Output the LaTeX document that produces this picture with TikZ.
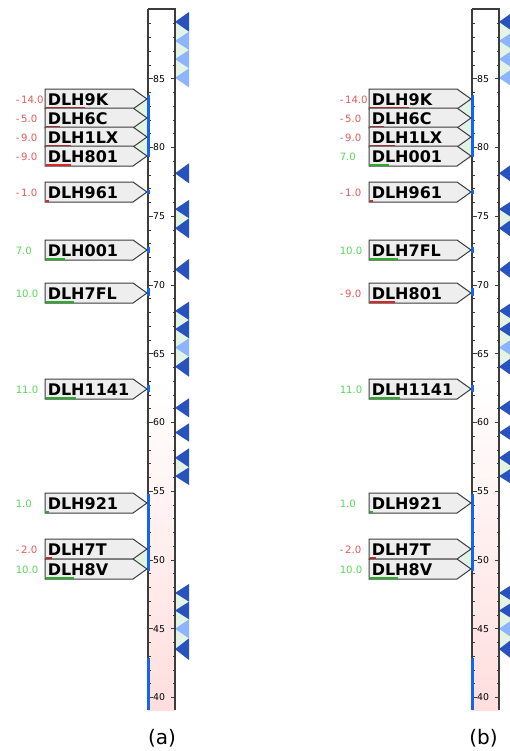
\documentclass[tikz,border=0pt]{standalone}
\usepackage{fontspec}
\setmainfont{DejaVu Sans}
\usetikzlibrary{positioning}

\definecolor{tridark}{RGB}{40,82,190}
\definecolor{trilight}{RGB}{140,180,255}
\definecolor{gapgreen}{RGB}{228,244,228}
\definecolor{boxgray}{RGB}{238,238,238}
\definecolor{edgegray}{RGB}{60,60,60}
\definecolor{valred}{RGB}{228,90,90}
\definecolor{valgreen}{RGB}{90,215,90}
\definecolor{barred}{RGB}{215,40,40}
\definecolor{bargreen}{RGB}{40,175,40}
\definecolor{rangeblue}{RGB}{20,100,240}
\definecolor{axispink}{RGB}{255,222,222}

\begin{document}
\begin{tikzpicture}[
    x=0.75pt,y=-0.75pt,
    lblbox/.style={draw=edgegray,fill=boxgray,line width=0.75pt,line join=miter},
    lbltext/.style={anchor=west,inner sep=0pt,font=\fontsize{12}{13}\selectfont\bfseries},
    vallbl/.style={anchor=west,inner sep=0pt,font=\fontsize{7.6}{8}\selectfont},
    axislbl/.style={anchor=west,inner sep=0pt,font=\fontsize{7}{8}\selectfont},
    caplbl/.style={inner sep=0pt,font=\fontsize{15}{16}\selectfont},
    axisedge/.style={draw=edgegray,line width=0.9pt},
    tickline/.style={draw=edgegray,line width=0.6pt},
    rangebar/.style={draw=rangeblue,line width=2.2pt},
    valbar/.style={line width=1.4pt}
  ]
    \useasboundingbox (0,0) rectangle (510,751);
    \fill[white] (0,0) rectangle (510,751);

    % axis column, right-hand peaks, ranges (same in both panels)
    \foreach \dx/\cap/\cx in {0/a/162,324/b/159.5} {
      \begin{scope}[shift={(\dx,0)}]
        \fill[white] (148,9) rectangle (175,380);
        \shade[top color=white,bottom color=axispink] (148,380) rectangle (175,710);
        \foreach \v in {40,...,89}
          \draw[tickline] (148,{697.5-(\v-40)*13.75}) -- ++(2.5,0)
                          (175,{697.5-(\v-40)*13.75}) -- ++(-2.5,0);
        \foreach \v in {40,45,...,85} {
          \draw[tickline] (148,{697.5-(\v-40)*13.75}) -- ++(4.5,0)
                          (175,{697.5-(\v-40)*13.75}) -- ++(-4.5,0);
          \node[axislbl] (\cap-t\v) at (152.8,{697.5-(\v-40)*13.75}) {\v};
        }
        % gaps between peak tips
        \foreach \t/\b in {21.8/77.8,209.1/228.3,310.8/366.7,457.8/476.2,592.8/649.2}
          \fill[gapgreen] (175,\t) rectangle (189,\b);
        \foreach \t/\b/\c in {12/31.7/tridark,31.7/50/trilight,50/68.3/trilight,
            68.3/87.3/trilight,163.3/183.3/tridark,200/218.3/tridark,
            218.3/238.3/tridark,259/280/tridark,301.7/320/tridark,
            320/338.3/tridark,338.3/356.7/trilight,356.7/376.7/tridark,
            398.3/417.3/tridark,423.3/441.7/tridark,448.3/467.3/tridark,
            467.3/485/tridark,584/601.7/tridark,601.7/619.3/tridark,
            619.3/638.3/trilight,638.3/660/tridark}
          \fill[\c] (189,\t) -- (175,{(\t+\b)/2}) -- (189,\b) -- cycle;
        % gaps between label tips
        \fill[gapgreen] (133,99) rectangle (147,156);
        \fill[gapgreen] (133,549) rectangle (147,569);
        \draw[axisedge] (175,710) -- (175,9) -- (148,9);
        \draw[axisedge,line width=1.3pt] (148,9) -- (148,710);
        \foreach \t/\b in {95/157,190/194,247/253,288/296,385/392,494/571,658/710}
          \draw[rangebar] (148.6,\t) -- (148.6,\b);
        \node[caplbl] (cap-\cap) at (\cx,738) {(\cap)};
      \end{scope}
    }

    % panel (a) labels
    \foreach \t/\n/\val/\vc/\bc/\len in {
        89/9K/-\,14.0/valred/barred/14, 108/6C/-\,5.0/valred/barred/5,
        127/1LX/-\,9.0/valred/barred/9, 146/801/-\,9.0/valred/barred/9,
        182/961/-\,1.0/valred/barred/1, 240/001/7.0/valgreen/bargreen/7,
        283/7FL/10.0/valgreen/bargreen/10, 379/1141/11.0/valgreen/bargreen/11,
        493/921/1.0/valgreen/bargreen/1, 539/7T/-\,2.0/valred/barred/2,
        559/8V/10.0/valgreen/bargreen/10} {
      \draw[lblbox] (45,\t) -- (133,\t) -- (147,\t+10) -- (133,\t+20)
                    -- (45,\t+20) -- cycle;
      \node[lbltext] (a-\n) at (47.5,\t+10.5) {DLH\n};
      \node[vallbl,text=\vc] (a-v\n) at (15.5,\t+11) {\val};
      \draw[valbar,draw=\bc] (46,\t+18.6) -- ++(2.75*\len,0);
    }

    % panel (b) labels
    \foreach \t/\n/\val/\vc/\bc/\len in {
        89/9K/-\,14.0/valred/barred/14, 108/6C/-\,5.0/valred/barred/5,
        127/1LX/-\,9.0/valred/barred/9, 146/001/7.0/valgreen/bargreen/7,
        182/961/-\,1.0/valred/barred/1, 240/7FL/10.0/valgreen/bargreen/10,
        283/801/-\,9.0/valred/barred/9, 379/1141/11.0/valgreen/bargreen/11,
        493/921/1.0/valgreen/bargreen/1, 539/7T/-\,2.0/valred/barred/2,
        559/8V/10.0/valgreen/bargreen/10} {
      \draw[lblbox] (369,\t) -- (457,\t) -- (471,\t+10) -- (457,\t+20)
                    -- (369,\t+20) -- cycle;
      \node[lbltext] (b-\n) at (371.5,\t+10.5) {DLH\n};
      \node[vallbl,text=\vc] (b-v\n) at (339.5,\t+11) {\val};
      \draw[valbar,draw=\bc] (370,\t+18.6) -- ++(2.75*\len,0);
    }
  \end{tikzpicture}
\end{document}
